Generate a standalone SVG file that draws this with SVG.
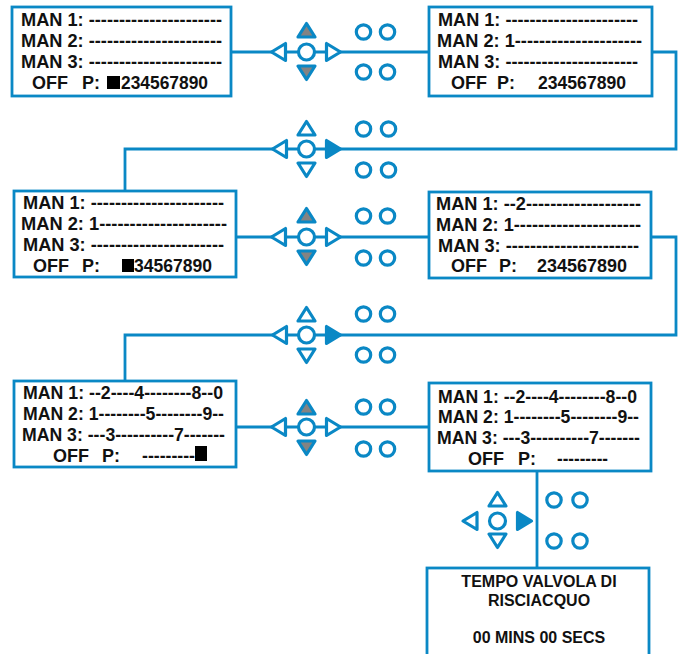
<svg xmlns="http://www.w3.org/2000/svg" width="678" height="654" viewBox="0 0 678 654">
<defs>
<style>
.box{fill:#fff;stroke:#0a88c5;stroke-width:2.8}
.wire{fill:none;stroke:#0a88c5;stroke-width:2.8}
.t{font-family:"Liberation Sans",Arial,sans-serif;font-weight:bold;font-size:18px;fill:#111}
.c{text-anchor:middle}
.b{fill:#fff;stroke:#0a88c5;stroke-width:3.2;stroke-linejoin:round}
.g{fill:#838383;stroke:#0a88c5;stroke-width:3.2;stroke-linejoin:round}
.f{fill:#0a88c5;stroke:#0a88c5;stroke-width:3.2;stroke-linejoin:round}
.blk{fill:#000}
</style>
<path id="left" d="M-7,0 L7,-8.5 L7,8.5 Z"/>
<path id="right" d="M7,0 L-7,-8.5 L-7,8.5 Z"/>
<path id="up" d="M0,-6.5 L8.5,7 L-8.5,7 Z"/>
<path id="down" d="M0,6.5 L8.5,-7 L-8.5,-7 Z"/>
</defs>
<rect width="678" height="654" fill="#fff"/>

<g id="connectors">
<path class="wire" d="M231,52 H429"/>
<path class="wire" d="M652,52 H676 V149 H125 V191"/>
<path class="wire" d="M236,237 H429"/>
<path class="wire" d="M651,237 H676 V335 H125 V381"/>
<path class="wire" d="M236,427 H429"/>
<path class="wire" d="M537,471 V568"/>
</g>

<g id="keys1" transform="translate(306.5,52)">
<use href="#left" class="b" x="-28"/><circle class="b" r="8"/><use href="#right" class="b" x="27"/>
<use href="#up" class="g" y="-22"/><use href="#down" class="g" y="21"/>
<circle class="b" cx="57" cy="-20" r="7.2"/><circle class="b" cx="81" cy="-20" r="7.2"/>
<circle class="b" cx="57" cy="20" r="7.2"/><circle class="b" cx="81" cy="20" r="7.2"/>
</g>
<g id="keys2" transform="translate(306.5,149)">
<use href="#left" class="b" x="-27"/><circle class="b" r="8"/><use href="#right" class="f" x="27"/>
<use href="#up" class="b" y="-21"/><use href="#down" class="b" y="21"/>
<circle class="b" cx="57" cy="-20" r="7.2"/><circle class="b" cx="82" cy="-20" r="7.2"/>
<circle class="b" cx="57" cy="21" r="7.2"/><circle class="b" cx="82" cy="21" r="7.2"/>
</g>
<g id="keys3" transform="translate(306.5,237)">
<use href="#left" class="b" x="-28"/><circle class="b" r="8"/><use href="#right" class="b" x="27"/>
<use href="#up" class="g" y="-22"/><use href="#down" class="g" y="21"/>
<circle class="b" cx="57" cy="-21" r="7.2"/><circle class="b" cx="81" cy="-21" r="7.2"/>
<circle class="b" cx="57" cy="21" r="7.2"/><circle class="b" cx="81" cy="21" r="7.2"/>
</g>
<g id="keys4" transform="translate(306.5,335)">
<use href="#left" class="b" x="-27"/><circle class="b" r="8"/><use href="#right" class="f" x="27"/>
<use href="#up" class="b" y="-21"/><use href="#down" class="b" y="21"/>
<circle class="b" cx="57" cy="-21" r="7.2"/><circle class="b" cx="81" cy="-21" r="7.2"/>
<circle class="b" cx="57" cy="20" r="7.2"/><circle class="b" cx="81" cy="20" r="7.2"/>
</g>
<g id="keys5" transform="translate(306.5,427)">
<use href="#left" class="b" x="-28"/><circle class="b" r="8"/><use href="#right" class="b" x="27"/>
<use href="#up" class="g" y="-20"/><use href="#down" class="g" y="21"/>
<circle class="b" cx="57" cy="-20" r="7.2"/><circle class="b" cx="81" cy="-20" r="7.2"/>
<circle class="b" cx="57" cy="22" r="7.2"/><circle class="b" cx="81" cy="22" r="7.2"/>
</g>
<g id="keys6" transform="translate(497.5,521)">
<use href="#left" class="b" x="-27.5"/><circle class="b" r="8"/><use href="#right" class="f" x="27"/>
<use href="#up" class="b" y="-22"/><use href="#down" class="b" y="20"/>
<circle class="b" cx="56.5" cy="-21" r="7.2"/><circle class="b" cx="82.5" cy="-21" r="7.2"/>
<circle class="b" cx="56.5" cy="20" r="7.2"/><circle class="b" cx="82.5" cy="20" r="7.2"/>
</g>

<g id="screen1">
<rect class="box" x="12" y="7" width="219" height="89"/>
<text class="t" x="21" y="26" textLength="201" lengthAdjust="spacingAndGlyphs">MAN 1: ----------------------</text>
<text class="t" x="21" y="47" textLength="201" lengthAdjust="spacingAndGlyphs">MAN 2: ----------------------</text>
<text class="t" x="21" y="68" textLength="201" lengthAdjust="spacingAndGlyphs">MAN 3: ----------------------</text>
<text class="t" x="32" y="89">OFF</text>
<text class="t" x="82" y="89">P:</text>
<rect class="blk" x="107" y="76" width="13" height="13"/>
<text class="t" x="121" y="89" textLength="87" lengthAdjust="spacingAndGlyphs">234567890</text>
</g>

<g id="screen2">
<rect class="box" x="429" y="7" width="223" height="89"/>
<text class="t" x="438" y="26" textLength="200" lengthAdjust="spacingAndGlyphs">MAN 1: ----------------------</text>
<text class="t" x="437" y="47" textLength="205" lengthAdjust="spacingAndGlyphs">MAN 2: 1---------------------</text>
<text class="t" x="438" y="68" textLength="200" lengthAdjust="spacingAndGlyphs">MAN 3: ----------------------</text>
<text class="t" x="451" y="89">OFF</text>
<text class="t" x="497" y="89">P:</text>
<text class="t" x="538" y="89" textLength="88" lengthAdjust="spacingAndGlyphs">234567890</text>
</g>

<g id="screen3">
<rect class="box" x="14" y="191" width="222" height="86"/>
<text class="t" x="23" y="209" textLength="201" lengthAdjust="spacingAndGlyphs">MAN 1: ----------------------</text>
<text class="t" x="21" y="230" textLength="206" lengthAdjust="spacingAndGlyphs">MAN 2: 1---------------------</text>
<text class="t" x="23" y="251" textLength="201" lengthAdjust="spacingAndGlyphs">MAN 3: ----------------------</text>
<text class="t" x="33" y="272">OFF</text>
<text class="t" x="82" y="272">P:</text>
<rect class="blk" x="122" y="259" width="12" height="13"/>
<text class="t" x="134" y="272" textLength="78" lengthAdjust="spacingAndGlyphs">34567890</text>
</g>

<g id="screen4">
<rect class="box" x="429" y="192" width="222" height="86"/>
<text class="t" x="436" y="210" textLength="205" lengthAdjust="spacingAndGlyphs">MAN 1: --2-------------------</text>
<text class="t" x="436" y="231" textLength="205" lengthAdjust="spacingAndGlyphs">MAN 2: 1---------------------</text>
<text class="t" x="438" y="252" textLength="201" lengthAdjust="spacingAndGlyphs">MAN 3: ----------------------</text>
<text class="t" x="451" y="272">OFF</text>
<text class="t" x="499" y="272">P:</text>
<text class="t" x="537" y="272" textLength="90" lengthAdjust="spacingAndGlyphs">234567890</text>
</g>

<g id="screen5">
<rect class="box" x="14" y="381" width="222" height="86"/>
<text class="t" x="23" y="399" textLength="200" lengthAdjust="spacingAndGlyphs">MAN 1: --2----4--------8--0</text>
<text class="t" x="23" y="420" textLength="201" lengthAdjust="spacingAndGlyphs">MAN 2: 1--------5--------9--</text>
<text class="t" x="22" y="441" textLength="203" lengthAdjust="spacingAndGlyphs">MAN 3: ---3----------7-------</text>
<text class="t" x="53" y="462">OFF</text>
<text class="t" x="102" y="462">P:</text>
<text class="t" x="142" y="462" textLength="53" lengthAdjust="spacingAndGlyphs">---------</text>
<rect class="blk" x="195" y="446" width="12" height="15"/>
</g>

<g id="screen6">
<rect class="box" x="429" y="383" width="222" height="88"/>
<text class="t" x="438" y="403" textLength="199" lengthAdjust="spacingAndGlyphs">MAN 1: --2----4--------8--0</text>
<text class="t" x="438" y="423" textLength="201" lengthAdjust="spacingAndGlyphs">MAN 2: 1--------5--------9--</text>
<text class="t" x="437" y="444" textLength="203" lengthAdjust="spacingAndGlyphs">MAN 3: ---3----------7-------</text>
<text class="t" x="468" y="465">OFF</text>
<text class="t" x="518" y="465">P:</text>
<text class="t" x="557" y="465" textLength="51" lengthAdjust="spacingAndGlyphs">---------</text>
</g>

<g id="screen7">
<rect class="box" x="427" y="568" width="222" height="100"/>
<text class="t c" x="539" y="587" style="font-size:16px">TEMPO VALVOLA DI</text>
<text class="t c" x="539" y="606" style="font-size:16px">RISCIACQUO</text>
<text class="t c" x="539" y="643" style="font-size:16px">00 MINS 00 SECS</text>
</g>
</svg>
